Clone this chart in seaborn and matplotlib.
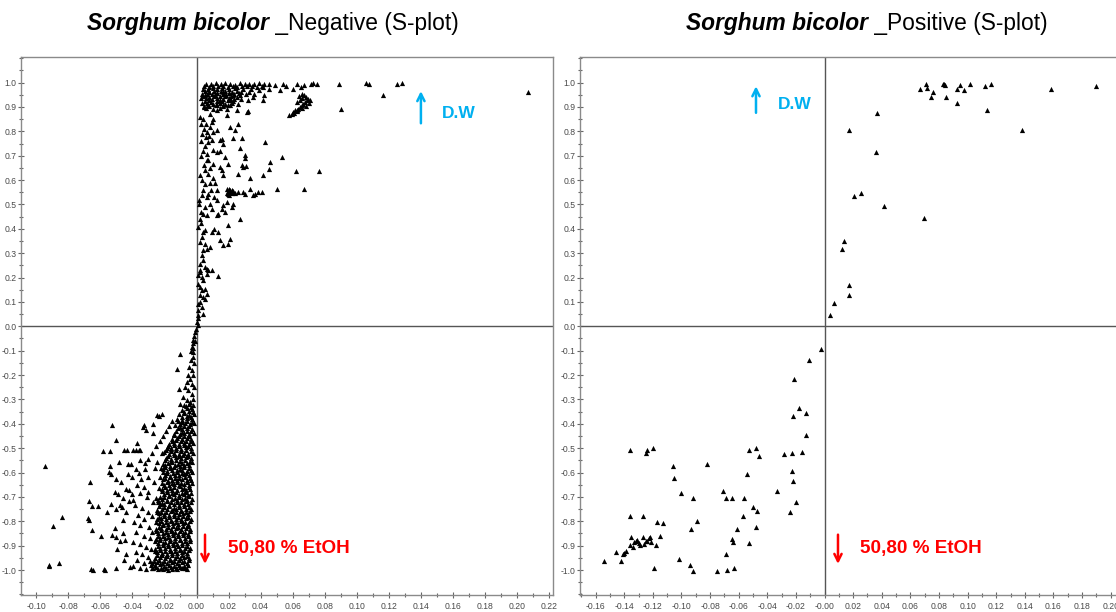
import matplotlib
matplotlib.use("Agg")
import matplotlib.pyplot as plt
from matplotlib import font_manager
from matplotlib.ticker import FixedLocator, FixedFormatter, MultipleLocator
import pandas as pd
import seaborn as sns

# ---------------------------------------------------------------- data
# S-plot coordinates: p[1] loading (x) against p(corr)[1] (y)

# negative ion mode, upper arm (D.W side)
neg_upper = [
    [0.006, 0.996], [0.009, 0.993], [0.012, 0.997], [0.015, 0.994], [0.018, 0.998], [0.021, 0.995],
    [0.024, 0.992], [0.027, 0.997], [0.030, 0.994], [0.033, 0.996], [0.036, 0.993], [0.039, 0.997],
    [0.042, 0.994], [0.045, 0.996],
    [0.0045, 0.985], [0.0075, 0.982], [0.0105, 0.987], [0.0135, 0.984], [0.0165, 0.986], [0.0195, 0.981],
    [0.0225, 0.985], [0.0255, 0.983], [0.0285, 0.987], [0.0315, 0.984], [0.0345, 0.986], [0.0375, 0.982],
    [0.041, 0.985],
    [0.004, 0.975], [0.007, 0.972], [0.010, 0.976], [0.013, 0.973], [0.016, 0.977], [0.020, 0.974],
    [0.024, 0.976], [0.029, 0.972], [0.034, 0.975],
    [0.045, 0.975], [0.0417, 0.982], [0.052, 0.971], [0.056, 0.985], [0.060, 0.975], [0.0625, 0.996],
    [0.067, 0.989], [0.0714, 0.996], [0.0729, 0.998], [0.075, 0.993], [0.049, 0.990], [0.054, 0.995],
    [0.065, 0.980],
    [0.089, 0.994], [0.1055, 0.997], [0.1078, 0.994], [0.125, 0.994], [0.128, 0.997], [0.1165, 0.949],
    [0.090, 0.890], [0.207, 0.960],
    [0.005, 0.965], [0.008, 0.962], [0.011, 0.967], [0.015, 0.964], [0.018, 0.966], [0.022, 0.961],
    [0.025, 0.965], [0.028, 0.963],
    [0.0065, 0.955], [0.0095, 0.952], [0.013, 0.956], [0.0165, 0.953], [0.020, 0.957], [0.0235, 0.954],
    [0.027, 0.951], [0.031, 0.955],
    [0.004, 0.945], [0.0075, 0.942], [0.011, 0.946], [0.0145, 0.943], [0.018, 0.947], [0.0215, 0.944],
    [0.025, 0.941],
    [0.006, 0.935], [0.0095, 0.932], [0.013, 0.936], [0.0165, 0.933], [0.020, 0.937], [0.0235, 0.934],
    [0.028, 0.931],
    [0.005, 0.925], [0.009, 0.922], [0.0125, 0.926], [0.016, 0.923], [0.0195, 0.927], [0.023, 0.924],
    [0.0065, 0.915], [0.0105, 0.912], [0.0145, 0.916], [0.018, 0.913], [0.022, 0.917], [0.026, 0.914],
    [0.0045, 0.905], [0.008, 0.902], [0.012, 0.906], [0.0165, 0.903], [0.021, 0.907],
    [0.006, 0.895], [0.010, 0.892], [0.0145, 0.896], [0.019, 0.893],
    [0.0075, 0.960], [0.0125, 0.959], [0.0165, 0.961], [0.0205, 0.958], [0.0265, 0.959], [0.0055, 0.950],
    [0.0115, 0.949], [0.0185, 0.950], [0.0225, 0.948], [0.0080, 0.930], [0.0145, 0.929], [0.0215, 0.930],
    [0.0070, 0.910], [0.0125, 0.909], [0.0195, 0.910], [0.0035, 0.955], [0.0030, 0.935], [0.0035, 0.915],
    [0.033, 0.962], [0.036, 0.955], [0.039, 0.968], [0.042, 0.950], [0.035, 0.940], [0.032, 0.930],
    [0.0417, 0.930],
    [0.0594, 0.873], [0.0604, 0.879], [0.0614, 0.886], [0.0625, 0.889], [0.0635, 0.893], [0.0646, 0.900],
    [0.0656, 0.907], [0.0666, 0.914], [0.0677, 0.920], [0.0687, 0.927], [0.0697, 0.934], [0.0683, 0.941],
    [0.0671, 0.948], [0.0656, 0.955], [0.0646, 0.927], [0.0625, 0.920], [0.058, 0.868], [0.061, 0.875],
    [0.063, 0.883], [0.066, 0.895], [0.068, 0.905], [0.070, 0.918], [0.071, 0.928], [0.066, 0.936],
    [0.064, 0.945],
]

# negative ion mode, rising section between 0 and 0.86
neg_middle = [
    [0.002, 0.859], [0.0047, 0.900], [0.0084, 0.873], [0.0105, 0.852], [0.0126, 0.886], [0.0167, 0.907],
    [0.0188, 0.865], [0.0251, 0.886], [0.0313, 0.879], [0.0323, 0.883],
    [0.0095, 0.838], [0.0084, 0.818], [0.0105, 0.797], [0.0126, 0.804], [0.0064, 0.797], [0.0059, 0.777],
    [0.0209, 0.818], [0.0240, 0.804], [0.0261, 0.832], [0.0230, 0.774], [0.0282, 0.774],
    [0.0074, 0.756], [0.0095, 0.763], [0.0147, 0.763], [0.0167, 0.750], [0.0157, 0.770],
    [0.0105, 0.722], [0.0126, 0.715], [0.0147, 0.719], [0.0178, 0.695], [0.0271, 0.733], [0.0303, 0.702],
    [0.0303, 0.692], [0.0429, 0.756],
    [0.0064, 0.681], [0.0074, 0.684], [0.0105, 0.667], [0.0147, 0.654], [0.0157, 0.640], [0.0198, 0.667],
    [0.0282, 0.661], [0.0292, 0.654], [0.0309, 0.656],
    [0.0459, 0.674], [0.0454, 0.647], [0.0531, 0.695],
    [0.0053, 0.640], [0.0074, 0.626], [0.0167, 0.619], [0.0261, 0.626], [0.0334, 0.610], [0.0413, 0.619],
    [0.062, 0.637], [0.0764, 0.637], [0.067, 0.565], [0.050, 0.565],
    [0.0020, 0.620], [0.0025, 0.700], [0.0030, 0.760], [0.0030, 0.830],
    [0.0040, 0.850], [0.0060, 0.830], [0.0045, 0.810], [0.0035, 0.790], [0.0080, 0.780], [0.0050, 0.740],
    [0.0040, 0.720], [0.0065, 0.705], [0.0045, 0.660], [0.0085, 0.650], [0.0035, 0.600], [0.0100, 0.610],
    [0.0115, 0.590], [0.0090, 0.560], [0.0040, 0.560], [0.0110, 0.530], [0.0130, 0.520], [0.0035, 0.540],
    [0.0053, 0.585], [0.0084, 0.588], [0.0126, 0.558], [0.0074, 0.542], [0.0064, 0.531], [0.0188, 0.565],
    [0.0195, 0.551], [0.0198, 0.542], [0.0209, 0.558], [0.0219, 0.545], [0.0240, 0.547], [0.0261, 0.551],
    [0.0292, 0.551], [0.0303, 0.542], [0.0334, 0.565], [0.0355, 0.537], [0.0365, 0.544], [0.0382, 0.551],
    [0.0407, 0.551],
    [0.020, 0.562], [0.021, 0.553], [0.019, 0.548], [0.022, 0.560], [0.0205, 0.540], [0.023, 0.556],
    [0.0042, 0.462], [0.0064, 0.455], [0.0053, 0.489], [0.0084, 0.503], [0.0095, 0.483], [0.0126, 0.455],
    [0.0136, 0.462], [0.0157, 0.483], [0.0167, 0.496], [0.0178, 0.469], [0.0188, 0.510], [0.0219, 0.489],
    [0.0230, 0.503], [0.0271, 0.442], [0.0198, 0.414],
    [0.0015, 0.500], [0.0025, 0.470], [0.0020, 0.440], [0.0030, 0.425], [0.0015, 0.520],
    [0.0011, 0.407], [0.0042, 0.387], [0.0053, 0.394], [0.0095, 0.387], [0.0111, 0.401], [0.0136, 0.387],
    [0.0147, 0.353], [0.0167, 0.332], [0.0198, 0.339], [0.0209, 0.360], [0.0032, 0.366], [0.0022, 0.346],
    [0.0053, 0.339], [0.0064, 0.319], [0.0084, 0.325], [0.0042, 0.312],
    [0.0032, 0.291], [0.0042, 0.271], [0.0022, 0.257], [0.0053, 0.243], [0.0064, 0.237], [0.0074, 0.230],
    [0.0095, 0.233], [0.0136, 0.205], [0.0022, 0.223], [0.0011, 0.209], [0.0032, 0.202], [0.0042, 0.189],
    [0.0064, 0.213], [0.0022, 0.230],
    [0.0011, 0.175], [0.0022, 0.161], [0.0032, 0.148], [0.0053, 0.155], [0.0064, 0.134], [0.0022, 0.127],
    [0.0042, 0.120], [0.0053, 0.114], [0.0022, 0.100], [0.0011, 0.093], [0.0032, 0.079], [0.0042, 0.052],
    [0.0011, 0.066], [0.0008, 0.045], [0.0012, 0.032], [0.0006, 0.018], [0.0010, 0.007],
]

# negative ion mode, lower arm (50,80 % EtOH side): stem and sparse outliers
neg_lower = [
    [-0.0005, -0.010], [-0.0010, -0.025], [-0.0015, -0.040], [-0.0020, -0.055], [-0.0025, -0.070],
    [-0.0010, -0.060], [-0.0020, -0.090], [-0.0035, -0.100],
    [-0.0103, -0.112], [-0.0124, -0.174], [-0.0107, -0.256], [-0.0030, -0.085], [-0.0024, -0.105],
    [-0.0036, -0.139], [-0.0045, -0.167], [-0.0030, -0.181], [-0.0051, -0.201], [-0.0041, -0.215],
    [-0.0061, -0.228], [-0.0030, -0.235], [-0.0072, -0.249], [-0.0051, -0.263], [-0.0030, -0.276],
    [-0.0082, -0.290], [-0.0061, -0.304], [-0.0041, -0.311], [-0.0020, -0.297], [-0.0103, -0.317],
    [-0.0015, -0.150], [-0.0020, -0.200], [-0.0018, -0.250], [-0.0025, -0.125],
    [-0.0945, -0.573], [-0.0920, -0.978], [-0.0920, -0.983], [-0.0893, -0.821], [-0.0856, -0.972],
    [-0.0839, -0.782], [-0.0675, -0.785], [-0.0669, -0.793], [-0.0663, -0.639], [-0.0671, -0.718],
    [-0.0652, -0.738], [-0.0614, -0.738], [-0.0654, -0.834], [-0.0656, -0.994], [-0.0646, -1.001],
    [-0.0577, -0.994], [-0.0569, -1.000], [-0.0594, -0.859], [-0.0560, -0.762], [-0.0581, -0.512],
    [-0.0538, -0.512], [-0.0529, -0.405], [-0.0504, -0.468], [-0.0538, -0.573], [-0.0533, -0.607],
    [-0.0548, -0.598], [-0.0504, -0.628], [-0.0507, -0.680], [-0.0533, -0.731], [-0.0502, -0.748],
    [-0.0508, -0.827], [-0.0527, -0.857], [-0.0504, -0.864], [-0.0498, -0.915], [-0.0450, -0.506],
    [-0.0435, -0.506], [-0.0460, -0.704], [-0.0477, -0.734], [-0.0465, -0.741], [-0.0457, -0.796],
    [-0.0460, -0.848], [-0.0446, -0.878], [-0.0440, -0.933], [-0.0415, -0.987], [-0.0429, -0.563],
    [-0.0409, -0.567], [-0.0425, -0.608], [-0.0404, -0.618], [-0.0440, -0.666], [-0.0419, -0.673],
    [-0.0404, -0.690], [-0.0423, -0.718], [-0.0398, -0.714], [-0.0373, -0.477], [-0.0332, -0.413],
    [-0.0328, -0.403], [-0.0317, -0.427], [-0.0270, -0.402], [-0.0273, -0.436], [-0.0248, -0.365],
    [-0.0232, -0.368], [-0.0213, -0.358], [-0.0394, -0.506], [-0.0377, -0.506], [-0.0361, -0.509],
    [-0.0352, -0.506], [-0.0352, -0.550], [-0.0323, -0.559],
    [-0.0380, -0.585], [-0.0360, -0.600], [-0.0345, -0.625], [-0.0370, -0.650], [-0.0330, -0.660],
    [-0.0355, -0.685], [-0.0310, -0.700], [-0.0385, -0.735], [-0.0340, -0.745], [-0.0300, -0.760],
    [-0.0365, -0.775], [-0.0325, -0.790], [-0.0390, -0.805], [-0.0350, -0.815], [-0.0295, -0.825],
    [-0.0375, -0.845], [-0.0330, -0.860], [-0.0290, -0.870], [-0.0395, -0.885], [-0.0355, -0.895],
    [-0.0315, -0.905], [-0.0380, -0.925], [-0.0340, -0.935], [-0.0300, -0.945], [-0.0370, -0.960],
    [-0.0330, -0.972], [-0.0395, -0.985], [-0.0350, -0.990], [-0.0315, -0.995], [-0.0290, -0.965],
    [-0.0285, -0.915], [-0.0280, -0.845], [-0.0275, -0.780], [-0.0270, -0.720], [-0.0265, -0.640],
    [-0.0260, -0.580], [-0.0300, -0.545], [-0.0280, -0.520], [-0.0250, -0.490], [-0.0230, -0.470],
    [-0.0210, -0.450], [-0.0190, -0.430], [-0.0170, -0.410], [-0.0150, -0.390], [-0.0160, -0.500],
    [-0.0215, -0.520], [-0.0245, -0.555], [-0.0320, -0.585], [-0.0300, -0.620], [-0.0305, -0.680],
    [-0.0485, -0.555], [-0.0470, -0.640], [-0.0490, -0.690], [-0.0475, -0.880], [-0.0455, -0.960],
    [-0.0500, -0.990], [-0.0440, -0.760],
]

# negative ion mode, lower arm: dense core close to the axis
neg_core = [
    [-0.0020, -0.322], [-0.0048, -0.318], [-0.0078, -0.324],
    [-0.0035, -0.331], [-0.0063, -0.329],
    [-0.0030, -0.341], [-0.0060, -0.337], [-0.0092, -0.343],
    [-0.0025, -0.351], [-0.0045, -0.349], [-0.0078, -0.352],
    [-0.0018, -0.359], [-0.0045, -0.363], [-0.0075, -0.357], [-0.0108, -0.361],
    [-0.0033, -0.371], [-0.0062, -0.369], [-0.0092, -0.372],
    [-0.0028, -0.381], [-0.0058, -0.377], [-0.0088, -0.383], [-0.0120, -0.379],
    [-0.0030, -0.391], [-0.0058, -0.389], [-0.0088, -0.392], [-0.0118, -0.388],
    [-0.0016, -0.398], [-0.0043, -0.402], [-0.0072, -0.397], [-0.0103, -0.401], [-0.0135, -0.404],
    [-0.0045, -0.411], [-0.0075, -0.409], [-0.0105, -0.412],
    [-0.0030, -0.421], [-0.0060, -0.417], [-0.0090, -0.423], [-0.0118, -0.419],
    [-0.0032, -0.431], [-0.0062, -0.429], [-0.0092, -0.432], [-0.0125, -0.428],
    [-0.0018, -0.439], [-0.0046, -0.443], [-0.0076, -0.438], [-0.0105, -0.442], [-0.0140, -0.440],
    [-0.0047, -0.451], [-0.0077, -0.449], [-0.0108, -0.452], [-0.0138, -0.448],
    [-0.0032, -0.461], [-0.0062, -0.457], [-0.0093, -0.462], [-0.0122, -0.458], [-0.0155, -0.463],
    [-0.0035, -0.471], [-0.0065, -0.469], [-0.0095, -0.472], [-0.0125, -0.468], [-0.0150, -0.471],
    [-0.0020, -0.479], [-0.0049, -0.483], [-0.0079, -0.478], [-0.0108, -0.482], [-0.0138, -0.480],
    [-0.0170, -0.484],
    [-0.0050, -0.491], [-0.0080, -0.489], [-0.0110, -0.492], [-0.0142, -0.488], [-0.0175, -0.491],
    [-0.0034, -0.501], [-0.0064, -0.497], [-0.0095, -0.502], [-0.0125, -0.498], [-0.0157, -0.503],
    [-0.0186, -0.499],
    [-0.0037, -0.511], [-0.0067, -0.509], [-0.0097, -0.512], [-0.0127, -0.508], [-0.0160, -0.511],
    [-0.0192, -0.509],
    [-0.0022, -0.519], [-0.0051, -0.523], [-0.0081, -0.518], [-0.0111, -0.522], [-0.0142, -0.520],
    [-0.0173, -0.524], [-0.0200, -0.517],
    [-0.0052, -0.531], [-0.0082, -0.529], [-0.0112, -0.532], [-0.0143, -0.528], [-0.0175, -0.531],
    [-0.0036, -0.541], [-0.0066, -0.537], [-0.0097, -0.542], [-0.0128, -0.538], [-0.0160, -0.543],
    [-0.0190, -0.539],
    [-0.0040, -0.551], [-0.0070, -0.549], [-0.0100, -0.552], [-0.0130, -0.548], [-0.0162, -0.551],
    [-0.0195, -0.549],
    [-0.0030, -0.557], [-0.0058, -0.562], [-0.0091, -0.559], [-0.0118, -0.564], [-0.0152, -0.556],
    [-0.0179, -0.561], [-0.0212, -0.566],
    [-0.0045, -0.571], [-0.0075, -0.568], [-0.0105, -0.572], [-0.0135, -0.569], [-0.0165, -0.573],
    [-0.0195, -0.570],
    [-0.0045, -0.581], [-0.0077, -0.577], [-0.0104, -0.584], [-0.0138, -0.579], [-0.0166, -0.583],
    [-0.0197, -0.576], [-0.0224, -0.582],
    [-0.0037, -0.589], [-0.0062, -0.592], [-0.0090, -0.588], [-0.0121, -0.591], [-0.0152, -0.590],
    [-0.0181, -0.593], [-0.0211, -0.587],
    [-0.0028, -0.598], [-0.0063, -0.603], [-0.0092, -0.600], [-0.0121, -0.596], [-0.0149, -0.604],
    [-0.0183, -0.601], [-0.0210, -0.597],
    [-0.0048, -0.611], [-0.0078, -0.608], [-0.0107, -0.612], [-0.0136, -0.609], [-0.0166, -0.613],
    [-0.0196, -0.610],
    [-0.0042, -0.622], [-0.0074, -0.617], [-0.0108, -0.621], [-0.0135, -0.624], [-0.0163, -0.618],
    [-0.0195, -0.623], [-0.0228, -0.619],
    [-0.0035, -0.629], [-0.0060, -0.632], [-0.0091, -0.628], [-0.0120, -0.631], [-0.0150, -0.630],
    [-0.0180, -0.633], [-0.0212, -0.627],
    [-0.0031, -0.641], [-0.0060, -0.638], [-0.0095, -0.644], [-0.0124, -0.639], [-0.0155, -0.642],
    [-0.0182, -0.637], [-0.0214, -0.643],
    [-0.0045, -0.651], [-0.0075, -0.648], [-0.0110, -0.652], [-0.0140, -0.649], [-0.0170, -0.653],
    [-0.0200, -0.650],
    [-0.0047, -0.659], [-0.0079, -0.663], [-0.0106, -0.657], [-0.0139, -0.661], [-0.0168, -0.664],
    [-0.0199, -0.658], [-0.0231, -0.662],
    [-0.0038, -0.669], [-0.0064, -0.672], [-0.0092, -0.668], [-0.0122, -0.671], [-0.0153, -0.670],
    [-0.0184, -0.673], [-0.0215, -0.667],
    [-0.0033, -0.682], [-0.0066, -0.678], [-0.0093, -0.683], [-0.0126, -0.679], [-0.0151, -0.684],
    [-0.0186, -0.680], [-0.0217, -0.677],
    [-0.0050, -0.691], [-0.0080, -0.688], [-0.0112, -0.692], [-0.0142, -0.689], [-0.0173, -0.693],
    [-0.0205, -0.690],
    [-0.0044, -0.698], [-0.0072, -0.703], [-0.0109, -0.700], [-0.0137, -0.704], [-0.0170, -0.697],
    [-0.0201, -0.702], [-0.0229, -0.699], [-0.0252, -0.705],
    [-0.0030, -0.709], [-0.0060, -0.712], [-0.0090, -0.708], [-0.0122, -0.711], [-0.0153, -0.710],
    [-0.0185, -0.713], [-0.0216, -0.707], [-0.0240, -0.711],
    [-0.0036, -0.721], [-0.0064, -0.717], [-0.0097, -0.723], [-0.0122, -0.719], [-0.0157, -0.722],
    [-0.0184, -0.718], [-0.0215, -0.724], [-0.0240, -0.720],
    [-0.0050, -0.731], [-0.0081, -0.728], [-0.0110, -0.732], [-0.0140, -0.729], [-0.0170, -0.733],
    [-0.0200, -0.730], [-0.0228, -0.728],
    [-0.0049, -0.742], [-0.0080, -0.738], [-0.0111, -0.741], [-0.0140, -0.744], [-0.0171, -0.737],
    [-0.0203, -0.743], [-0.0232, -0.739],
    [-0.0035, -0.751], [-0.0064, -0.748], [-0.0095, -0.752], [-0.0126, -0.749], [-0.0156, -0.753],
    [-0.0187, -0.750], [-0.0218, -0.748], [-0.0245, -0.752],
    [-0.0038, -0.759], [-0.0067, -0.763], [-0.0094, -0.758], [-0.0128, -0.762], [-0.0159, -0.757],
    [-0.0188, -0.761], [-0.0219, -0.764], [-0.0247, -0.760],
    [-0.0052, -0.771], [-0.0082, -0.768], [-0.0111, -0.772], [-0.0142, -0.769], [-0.0172, -0.773],
    [-0.0203, -0.770], [-0.0233, -0.768],
    [-0.0051, -0.781], [-0.0082, -0.777], [-0.0113, -0.782], [-0.0142, -0.778], [-0.0173, -0.783],
    [-0.0205, -0.779], [-0.0234, -0.784],
    [-0.0037, -0.791], [-0.0066, -0.788], [-0.0096, -0.792], [-0.0127, -0.789], [-0.0158, -0.793],
    [-0.0189, -0.790], [-0.0220, -0.788], [-0.0248, -0.792],
    [-0.0040, -0.798], [-0.0069, -0.802], [-0.0098, -0.799], [-0.0131, -0.803], [-0.0160, -0.797],
    [-0.0190, -0.801], [-0.0222, -0.798], [-0.0251, -0.804],
    [-0.0054, -0.811], [-0.0084, -0.808], [-0.0114, -0.812], [-0.0145, -0.809], [-0.0175, -0.813],
    [-0.0206, -0.810], [-0.0236, -0.808],
    [-0.0053, -0.821], [-0.0084, -0.818], [-0.0115, -0.823], [-0.0144, -0.819], [-0.0176, -0.822],
    [-0.0207, -0.817], [-0.0237, -0.824],
    [-0.0039, -0.831], [-0.0068, -0.828], [-0.0099, -0.832], [-0.0130, -0.829], [-0.0160, -0.833],
    [-0.0191, -0.830], [-0.0222, -0.828], [-0.0252, -0.832],
    [-0.0041, -0.839], [-0.0071, -0.843], [-0.0101, -0.838], [-0.0133, -0.842], [-0.0162, -0.840],
    [-0.0193, -0.844], [-0.0224, -0.837], [-0.0255, -0.841],
    [-0.0056, -0.851], [-0.0086, -0.848], [-0.0116, -0.852], [-0.0147, -0.849], [-0.0177, -0.853],
    [-0.0208, -0.850], [-0.0239, -0.848],
    [-0.0055, -0.861], [-0.0086, -0.857], [-0.0117, -0.862], [-0.0147, -0.858], [-0.0178, -0.863],
    [-0.0209, -0.859], [-0.0240, -0.860],
    [-0.0041, -0.871], [-0.0070, -0.868], [-0.0101, -0.872], [-0.0132, -0.869], [-0.0163, -0.873],
    [-0.0194, -0.870], [-0.0225, -0.868], [-0.0255, -0.872],
    [-0.0043, -0.879], [-0.0073, -0.883], [-0.0103, -0.878], [-0.0134, -0.882], [-0.0164, -0.880],
    [-0.0196, -0.884], [-0.0227, -0.877], [-0.0258, -0.881],
    [-0.0058, -0.891], [-0.0088, -0.888], [-0.0119, -0.892], [-0.0149, -0.889], [-0.0180, -0.893],
    [-0.0211, -0.890], [-0.0242, -0.888],
    [-0.0057, -0.901], [-0.0088, -0.897], [-0.0118, -0.902], [-0.0149, -0.898], [-0.0180, -0.903],
    [-0.0211, -0.899], [-0.0243, -0.900],
    [-0.0043, -0.911], [-0.0072, -0.908], [-0.0103, -0.912], [-0.0134, -0.909], [-0.0165, -0.913],
    [-0.0196, -0.910], [-0.0227, -0.908], [-0.0258, -0.912],
    [-0.0045, -0.919], [-0.0075, -0.923], [-0.0105, -0.918], [-0.0136, -0.922], [-0.0166, -0.920],
    [-0.0198, -0.924], [-0.0229, -0.917], [-0.0261, -0.921],
    [-0.0060, -0.931], [-0.0090, -0.928], [-0.0121, -0.932], [-0.0152, -0.929], [-0.0183, -0.933],
    [-0.0214, -0.930], [-0.0245, -0.928],
    [-0.0059, -0.941], [-0.0090, -0.937], [-0.0120, -0.942], [-0.0151, -0.938], [-0.0182, -0.943],
    [-0.0213, -0.939], [-0.0245, -0.940],
    [-0.0045, -0.951], [-0.0075, -0.948], [-0.0106, -0.952], [-0.0137, -0.949], [-0.0168, -0.953],
    [-0.0199, -0.950], [-0.0230, -0.948], [-0.0260, -0.952],
    [-0.0047, -0.959], [-0.0077, -0.963], [-0.0107, -0.958], [-0.0138, -0.962], [-0.0168, -0.960],
    [-0.0200, -0.964], [-0.0231, -0.957], [-0.0263, -0.961],
    [-0.0062, -0.971], [-0.0093, -0.968], [-0.0124, -0.972], [-0.0155, -0.969], [-0.0186, -0.973],
    [-0.0217, -0.970], [-0.0248, -0.968], [-0.0275, -0.972],
    [-0.0052, -0.979], [-0.0080, -0.983], [-0.0110, -0.978], [-0.0140, -0.982], [-0.0170, -0.980],
    [-0.0200, -0.984], [-0.0230, -0.977], [-0.0260, -0.981], [-0.0285, -0.980],
    [-0.0070, -0.991], [-0.0100, -0.988], [-0.0130, -0.992], [-0.0160, -0.989], [-0.0190, -0.993],
    [-0.0220, -0.990], [-0.0250, -0.988], [-0.0280, -0.992],
    [-0.0060, -0.996], [-0.0090, -0.993], [-0.0120, -0.997], [-0.0150, -0.994], [-0.0180, -0.998],
    [-0.0210, -0.995], [-0.0240, -0.996], [-0.0270, -0.993],
]

# positive ion mode
pos_points = [
    [-0.154, -0.961], [-0.136, -0.506], [-0.125, -0.520], [-0.124, -0.509], [-0.120, -0.500],
    [-0.106, -0.575], [-0.105, -0.624], [-0.082, -0.564], [-0.100, -0.686], [-0.092, -0.703],
    [-0.089, -0.797], [-0.093, -0.832], [-0.102, -0.953], [-0.094, -0.980], [-0.092, -1.005],
    [-0.075, -1.005], [-0.068, -0.998], [-0.063, -0.991], [-0.071, -0.674], [-0.069, -0.703],
    [-0.065, -0.703], [-0.056, -0.703], [-0.057, -0.777], [-0.061, -0.830], [-0.065, -0.871],
    [-0.064, -0.884], [-0.069, -0.936], [-0.053, -0.506], [-0.048, -0.500], [-0.046, -0.531],
    [-0.054, -0.605], [-0.050, -0.742], [-0.047, -0.756], [-0.048, -0.825], [-0.053, -0.891],
    [-0.033, -0.674], [-0.028, -0.523], [-0.023, -0.520], [-0.016, -0.517], [-0.023, -0.594],
    [-0.022, -0.634], [-0.020, -0.719], [-0.024, -0.760], [-0.018, -0.334], [-0.022, -0.368],
    [-0.013, -0.356], [-0.013, -0.445], [-0.136, -0.777], [-0.127, -0.777], [-0.117, -0.804],
    [-0.113, -0.806], [-0.115, -0.860], [-0.135, -0.865], [-0.118, -0.898], [-0.119, -0.991],
    [-0.146, -0.928], [-0.142, -0.961], [-0.141, -0.936], [-0.140, -0.931], [-0.139, -0.923],
    [-0.136, -0.898], [-0.133, -0.887], [-0.132, -0.880], [-0.131, -0.875], [-0.129, -0.898],
    [-0.127, -0.865], [-0.126, -0.892], [-0.125, -0.883], [-0.123, -0.870], [-0.122, -0.865],
    [-0.121, -0.885], [-0.124, -0.880], [-0.130, -0.890], [-0.134, -0.905],
    [-0.0023, -0.092], [-0.0106, -0.137], [-0.0211, -0.216],
    [0.0035, 0.048], [0.0063, 0.094], [0.0171, 0.127], [0.0171, 0.168], [0.0120, 0.316],
    [0.0134, 0.350], [0.0209, 0.535], [0.0256, 0.549], [0.0413, 0.494], [0.0697, 0.446],
    [0.0359, 0.715], [0.0174, 0.806], [0.0364, 0.876],
    [0.0669, 0.975], [0.0706, 0.994], [0.0718, 0.979], [0.0761, 0.961], [0.0744, 0.940],
    [0.0826, 0.993], [0.0840, 0.989], [0.0836, 0.994], [0.0850, 0.942], [0.0923, 0.975],
    [0.0949, 0.989], [0.0972, 0.968], [0.0927, 0.915], [0.1014, 0.993], [0.1122, 0.986],
    [0.1160, 0.994], [0.1132, 0.886], [0.1378, 0.804], [0.1580, 0.972], [0.1896, 0.988],
]

# axis ticks and labels
y_ticks = [1.0, 0.9, 0.8, 0.7, 0.6, 0.5, 0.4, 0.3, 0.2, 0.1, 0.0,
           -0.1, -0.2, -0.3, -0.4, -0.5, -0.6, -0.7, -0.8, -0.9, -1.0]
y_labels = ["1.0", "0.9", "0.8", "0.7", "0.6", "0.5", "0.4", "0.3", "0.2", "0.1", "0.0",
            "-0.1", "-0.2", "-0.3", "-0.4", "-0.5", "-0.6", "-0.7", "-0.8", "-0.9", "-1.0"]
neg_x_ticks = [-0.10, -0.08, -0.06, -0.04, -0.02, 0.00, 0.02, 0.04, 0.06, 0.08,
               0.10, 0.12, 0.14, 0.16, 0.18, 0.20, 0.22]
neg_x_labels = ["-0.10", "-0.08", "-0.06", "-0.04", "-0.02", "0.00", "0.02", "0.04", "0.06", "0.08",
                "0.10", "0.12", "0.14", "0.16", "0.18", "0.20", "0.22"]
pos_x_ticks = [-0.16, -0.14, -0.12, -0.10, -0.08, -0.06, -0.04, -0.02, 0.00, 0.02,
               0.04, 0.06, 0.08, 0.10, 0.12, 0.14, 0.16, 0.18, 0.20]
pos_x_labels = ["-0.16", "-0.14", "-0.12", "-0.10", "-0.08", "-0.06", "-0.04", "-0.02", "-0.00", "0.02",
                "0.04", "0.06", "0.08", "0.10", "0.12", "0.14", "0.16", "0.18", "0.20"]

species = "Sorghum bicolor"
neg_suffix = " _Negative (S-plot)"
pos_suffix = " _Positive (S-plot)"
up_label = "D.W"
down_label = "50,80 % EtOH"

# ---------------------------------------------------------------- style
sns.set_theme(style="white")
available = {f.name for f in font_manager.fontManager.ttflist}
narrow = "Liberation Sans Narrow" if "Liberation Sans Narrow" in available else "Liberation Sans"
plt.rcParams["font.family"] = [narrow, "DejaVu Sans"]
plt.rcParams["axes.unicode_minus"] = False

BLUE = "#00B0F0"
RED = "#FF0000"
SPINE = "#8a8a8a"
ZERO = "#555555"

W, H = 1116, 612
fig = plt.figure(figsize=(W / 100, H / 100), dpi=100)
fig.patch.set_facecolor("white")


def px_box(x0, y0, x1, y1):
    return [x0 / W, 1 - y1 / H, (x1 - x0) / W, (y1 - y0) / H]


ax_neg = fig.add_axes(px_box(21, 57, 552.5, 594.5))
ax_pos = fig.add_axes(px_box(580, 57, 1118, 594.5))

neg_df = pd.DataFrame(neg_upper + neg_middle + neg_lower + neg_core, columns=["p1", "pcorr"])
pos_df = pd.DataFrame(pos_points, columns=["p1", "pcorr"])

panels = [
    (ax_neg, neg_df, (-0.1095, 0.2221), neg_x_ticks, neg_x_labels),
    (ax_pos, pos_df, (-0.1709, 0.2051), pos_x_ticks, pos_x_labels),
]

for ax, df, xlim, xt, xl in panels:
    ax.axhline(0, color=ZERO, lw=1.0, zorder=1)
    ax.axvline(0, color=ZERO, lw=1.0, zorder=1)
    sns.scatterplot(data=df, x="p1", y="pcorr", ax=ax, marker="^", s=14,
                    color="black", linewidth=0, legend=False, zorder=3)
    ax.set_xlim(*xlim)
    ax.set_ylim(-1.1005, 1.105)
    ax.set_xlabel("")
    ax.set_ylabel("")
    ax.xaxis.set_major_locator(FixedLocator(xt))
    ax.xaxis.set_major_formatter(FixedFormatter(xl))
    ax.xaxis.set_minor_locator(MultipleLocator(0.01))
    ax.yaxis.set_major_locator(FixedLocator(y_ticks))
    ax.yaxis.set_major_formatter(FixedFormatter(y_labels))
    ax.yaxis.set_minor_locator(MultipleLocator(0.05))
    ax.tick_params(which="both", direction="inout", color="#666666", width=0.8,
                   bottom=True, left=True, top=False, right=False)
    ax.tick_params(which="major", length=4.5)
    ax.tick_params(which="minor", length=3)
    ax.tick_params(axis="y", labelsize=6.2, labelcolor="#4a4a4a", pad=1.0)
    ax.tick_params(axis="x", labelsize=6.2, labelcolor="#4a4a4a", pad=3.5)
    for side, sp in ax.spines.items():
        sp.set_color(SPINE)
        sp.set_linewidth(1.0)
    ax.set_facecolor("white")

ax_pos.spines["right"].set_visible(False)

# direction markers
fam = [narrow, "DejaVu Sans"]
arrow_kw = dict(arrowstyle="->", lw=1.8, mutation_scale=13, shrinkA=0, shrinkB=0)

ax_neg.annotate("", xy=(0.140, 0.965), xytext=(0.140, 0.833),
                arrowprops=dict(color=BLUE, **arrow_kw))
ax_neg.text(0.153, 0.874, up_label, color=BLUE, va="center", ha="left",
            fontsize=12.5, fontweight="bold", family=fam)
ax_neg.annotate("", xy=(0.0053, -0.975), xytext=(0.0053, -0.855),
                arrowprops=dict(color=RED, **arrow_kw))
ax_neg.text(0.0195, -0.911, down_label, color=RED, va="center", ha="left",
            fontsize=13.6, fontweight="bold", family=fam)

ax_pos.annotate("", xy=(-0.0479, 0.985), xytext=(-0.0479, 0.876),
                arrowprops=dict(color=BLUE, **arrow_kw))
ax_pos.text(-0.0325, 0.911, up_label, color=BLUE, va="center", ha="left",
            fontsize=12.5, fontweight="bold", family=fam)
ax_pos.annotate("", xy=(0.0094, -0.975), xytext=(0.0094, -0.855),
                arrowprops=dict(color=RED, **arrow_kw))
ax_pos.text(0.0245, -0.911, down_label, color=RED, va="center", ha="left",
            fontsize=13.6, fontweight="bold", family=fam)

# panel titles: italic bold species name followed by the regular suffix
renderer = fig.canvas.get_renderer()
title_font = dict(fontsize=16.4, color="black", va="baseline", ha="left", family=fam)


def panel_title(x_px, base_px, suffix):
    t1 = fig.text(x_px / W, 1 - base_px / H, species, fontweight="bold",
                  fontstyle="italic", **title_font)
    bb = t1.get_window_extent(renderer=renderer)
    fig.text(bb.x1 / W, 1 - base_px / H, suffix, fontweight="normal", **title_font)


panel_title(87, 30, neg_suffix)
panel_title(686, 30, pos_suffix)

fig.savefig("out.png", dpi=100, facecolor="white")
